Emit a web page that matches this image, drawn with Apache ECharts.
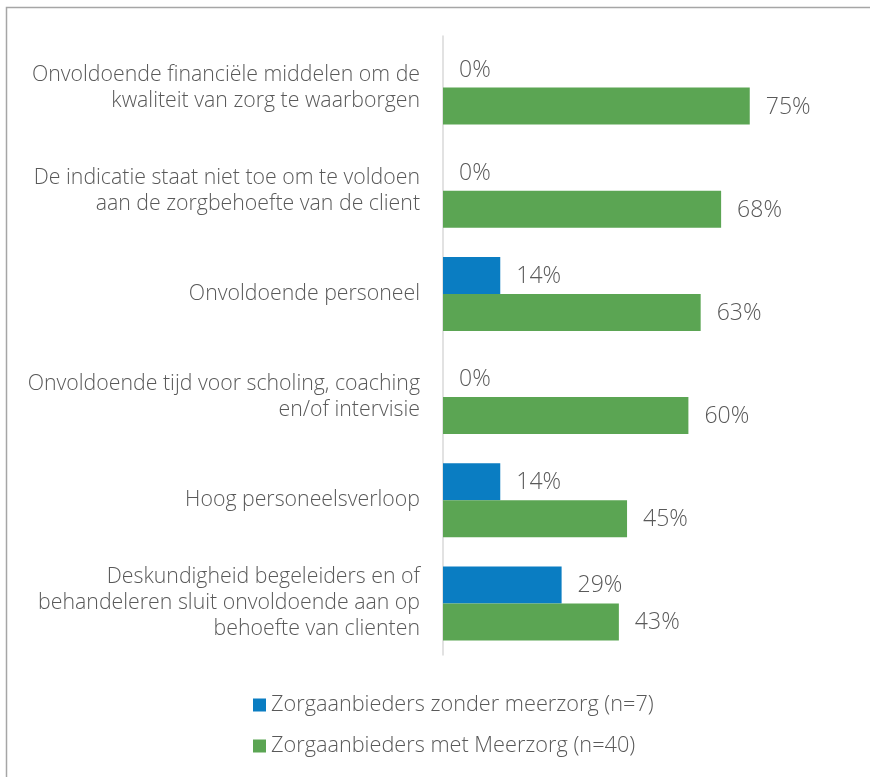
<!DOCTYPE html>
<html><head><meta charset="utf-8">
<script src="https://cdn.jsdelivr.net/npm/echarts@6/dist/echarts.min.js"></script>
<style>html,body{margin:0;padding:0;background:#fff}#c{width:870px;height:777px}</style>
</head><body><div id="c"></div>
<script>
const categories = [
  "Onvoldoende financiële middelen om de\nkwaliteit van zorg te waarborgen",
  "De indicatie staat niet toe om te voldoen\naan de zorgbehoefte van de client",
  "Onvoldoende personeel",
  "Onvoldoende tijd voor scholing, coaching\nen/of intervisie",
  "Hoog personeelsverloop",
  "Deskundigheid begeleiders en of\nbehandeleren sluit onvoldoende aan op\nbehoefte van clienten"
];
const seriesNames = ["Zorgaanbieders zonder meerzorg (n=7)", "Zorgaanbieders met Meerzorg (n=40)"];
const zonder = [0, 0, 14, 0, 14, 29];
const met = [75, 68, 63, 60, 45, 43];

const FONT = "'Open Sans', 'Noto Sans', sans-serif";
const TXT = "#595959";
const chart = echarts.init(document.getElementById('c'), null, {renderer: 'canvas'});
const lbl = {show: true, position: 'right', distance: 16, offset: [0, 1], formatter: '{c}%', color: TXT, fontSize: 23, fontWeight: 300, fontFamily: FONT};
chart.setOption({
  animation: false,
  graphic: [{type: 'rect', shape: {x: 6.5, y: 7.5, width: 900, height: 800}, style: {fill: 'none', stroke: '#a6a6a6', lineWidth: 1.5}}],
  grid: {left: 443, top: 36, width: 409, bottom: 122},
  legend: {
    orient: 'vertical', left: 248, top: 689, itemWidth: 13, itemHeight: 13, itemGap: 19,
    icon: 'rect', textStyle: {color: TXT, fontSize: 21.7, fontWeight: 300, fontFamily: FONT, padding: [0,0,0,0]},
    data: seriesNames
  },
  xAxis: {type: 'value', min: 0, max: 100, show: false},
  yAxis: {
    type: 'category', inverse: true, data: categories,
    axisLine: {lineStyle: {color: '#d9d9d9', width: 1.5}}, axisTick: {show: false},
    axisLabel: {color: TXT, fontSize: 21.3, fontWeight: 300, fontFamily: FONT, margin: 23, lineHeight: 26, align: 'right'}
  },
  series: [
    {name: seriesNames[0], type: 'bar', data: zonder, barWidth: 37, barGap: '0%', itemStyle: {color: '#0A7DC2'}, label: lbl},
    {name: seriesNames[1], type: 'bar', data: met, barWidth: 37, barGap: '0%', itemStyle: {color: '#5BA553'}, label: lbl}
  ]
});
</script></body></html>
